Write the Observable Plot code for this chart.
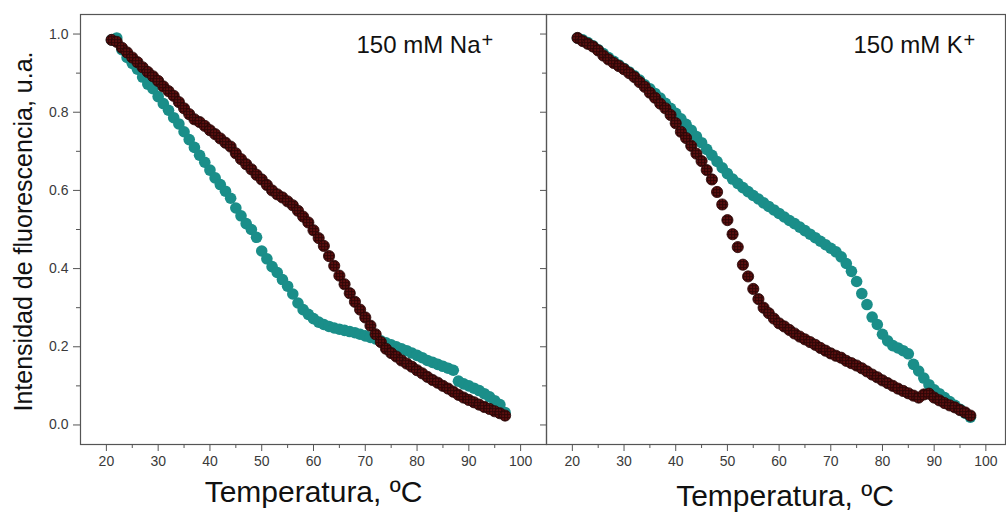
<!DOCTYPE html>
<html>
<head>
<meta charset="utf-8">
<script src="https://cdn.jsdelivr.net/npm/d3@7"></script>
<script src="https://cdn.jsdelivr.net/npm/@observablehq/plot@0.6"></script>
<style>
  html, body { margin: 0; padding: 0; background: #fff; }
  #wrap { position: relative; width: 1006px; height: 512px; overflow: hidden; background: #fff; }
  #left { position: absolute; left: 0; top: 0; }
  #right { position: absolute; left: 536px; top: 0; }
  #defs { position: absolute; width: 0; height: 0; }
</style>
</head>
<body>
<div id="wrap">
<svg id="defs" width="0" height="0">
  <defs>
    <pattern id="speckle" width="3" height="3" patternUnits="userSpaceOnUse">
      <rect width="3" height="3" fill="#2e0707"></rect>
      <rect x="1" y="1" width="1.2" height="1.2" fill="#b01c1c"></rect>
    </pattern>
  </defs>
</svg>
<div id="left"></div><div id="right"></div></div>
<script>
// Temperatures (ºC) of the sampled points
const temps = [21,22,23,24,25,26,27,28,29,30,31,32,33,34,35,36,37,38,39,40,
  41,42,43,44,45,46,47,48,49,50,51,52,53,54,55,56,57,58,59,60,
  61,62,63,64,65,66,67,68,69,70,71,72,73,74,75,76,77,78,79,80,
  81,82,83,84,85,86,87,88,89,90,91,92,93,94,95,96,97];

// 150 mM Na+ panel
const naTeal = [0.985,0.99,0.96,0.94,0.925,0.91,0.89,0.872,0.86,0.84,
  0.822,0.805,0.786,0.77,0.75,0.73,0.71,0.69,0.672,0.652,
  0.632,0.615,0.598,0.58,0.555,0.535,0.515,0.5,0.48,0.445,
  0.425,0.405,0.39,0.372,0.355,0.335,0.312,0.295,0.283,0.272,
  0.263,0.257,0.252,0.248,0.245,0.242,0.239,0.236,0.232,0.228,
  0.224,0.22,0.215,0.21,0.205,0.2,0.195,0.19,0.184,0.178,
  0.172,0.165,0.16,0.155,0.15,0.145,0.14,0.112,0.105,0.1,
  0.094,0.088,0.08,0.072,0.062,0.052,0.032];
const naDark = [0.985,0.98,0.965,0.953,0.94,0.928,0.915,0.903,0.892,0.88,
  0.866,0.854,0.842,0.826,0.81,0.795,0.782,0.775,0.765,0.754,
  0.744,0.733,0.722,0.712,0.695,0.68,0.667,0.654,0.64,0.628,
  0.614,0.6,0.59,0.582,0.572,0.562,0.548,0.533,0.518,0.498,
  0.478,0.458,0.432,0.407,0.382,0.36,0.337,0.315,0.295,0.275,
  0.254,0.232,0.212,0.195,0.184,0.175,0.165,0.157,0.149,0.14,
  0.132,0.123,0.115,0.108,0.1,0.093,0.085,0.077,0.07,0.064,
  0.058,0.052,0.046,0.041,0.035,0.03,0.024];

// 150 mM K+ panel
const kTeal = [0.99,0.985,0.978,0.97,0.96,0.95,0.94,0.93,0.921,0.912,
  0.903,0.893,0.882,0.87,0.86,0.848,0.836,0.823,0.81,0.797,
  0.783,0.769,0.754,0.738,0.722,0.705,0.69,0.674,0.658,0.643,
  0.629,0.618,0.607,0.597,0.587,0.578,0.568,0.559,0.55,0.541,
  0.532,0.523,0.515,0.506,0.497,0.488,0.479,0.47,0.461,0.452,
  0.443,0.43,0.413,0.393,0.367,0.336,0.308,0.276,0.257,0.232,
  0.215,0.203,0.197,0.19,0.182,0.155,0.138,0.12,0.103,0.09,
  0.08,0.07,0.06,0.05,0.04,0.03,0.02];
const kDark = [0.99,0.982,0.975,0.968,0.958,0.945,0.935,0.926,0.918,0.91,
  0.9,0.89,0.877,0.865,0.85,0.837,0.822,0.81,0.793,0.772,
  0.75,0.734,0.714,0.694,0.675,0.652,0.628,0.596,0.564,0.524,
  0.488,0.455,0.41,0.38,0.348,0.322,0.3,0.286,0.272,0.26,
  0.252,0.243,0.234,0.226,0.219,0.212,0.205,0.197,0.19,0.183,
  0.177,0.172,0.164,0.158,0.152,0.145,0.137,0.129,0.122,0.114,
  0.107,0.1,0.093,0.087,0.081,0.075,0.07,0.078,0.08,0.07,
  0.063,0.056,0.05,0.045,0.038,0.032,0.024];

// Ticks and labels
const xMajor = [20,30,40,50,60,70,80,90,100];
const xMinor = [15,25,35,45,55,65,75,85,95,105];
const yMajor = [0,0.2,0.4,0.6,0.8,1.0];
const yMinor = [0.1,0.3,0.5,0.7,0.9];
const xTitle = "Temperatura, ºC";
const yTitle = "Intensidad de fluorescencia, u.a.";
const labelNa = "150 mM Na";
const labelK = "150 mM K";
const plusSign = "+";

const TEAL = "#1a8e89";
const DARK = "url(#speckle)";
const DARKSTROKE = "#2a0606";
const AXIS = "#555";
const FONT = "Liberation Sans, Arial, Helvetica, sans-serif";

function panel({width, marginLeft, xDomain, teal, dark, label, labelDx, plusDx, showYLabels, titleDx, titleDy}) {
  const marks = [
    Plot.frame({stroke: AXIS, strokeWidth: 1.2}),
    Plot.axisX({ticks: xMajor, tickSize: 7, tickPadding: 5, fontSize: 14, stroke: AXIS, fill: "#3a3a3a", label: null}),
    Plot.axisX({ticks: xMinor.filter(d => d > xDomain[0] && d < xDomain[1]), tickSize: 4, text: null, stroke: AXIS, label: null}),
    Plot.axisY({ticks: yMajor, tickSize: showYLabels ? 7 : 6, tickPadding: 5, fontSize: 14, stroke: AXIS, fill: "#3a3a3a",
      tickFormat: showYLabels ? d3.format(".1f") : null, text: showYLabels ? undefined : null, label: null}),
    Plot.axisY({ticks: yMinor, tickSize: 4, text: null, stroke: AXIS, label: null}),
    Plot.dot(temps, {x: temps, y: teal, r: 5.8, fill: TEAL, stroke: "none"}),
    Plot.dot(temps, {x: temps, y: dark, r: 5.6, fill: DARK, stroke: DARKSTROKE, strokeWidth: 0.8}),
    Plot.text([label], {frameAnchor: "top-left", dx: labelDx, dy: 31, textAnchor: "start", lineAnchor: "middle", fontSize: 24, fill: "#111"}),
    Plot.text([plusSign], {frameAnchor: "top-left", dx: plusDx, dy: 26, textAnchor: "start", lineAnchor: "middle", fontSize: 20, fill: "#111"}),
    Plot.text([xTitle], {frameAnchor: "bottom", dx: titleDx, dy: titleDy, textAnchor: "middle", lineAnchor: "middle", fontSize: 30, fill: "#111"})
  ];
  if (showYLabels) {
    marks.push(Plot.text([yTitle], {frameAnchor: "left", dx: -57, dy: 2, rotate: -90, textAnchor: "middle", lineAnchor: "middle", fontSize: 25, fill: "#111"}));
  }
  return Plot.plot({
    width, height: 512,
    marginLeft, marginRight: 1, marginTop: 14, marginBottom: 68,
    x: {domain: xDomain},
    y: {domain: [-0.05, 1.05]},
    style: {fontFamily: FONT, background: "transparent", overflow: "visible"},
    marks
  });
}

document.getElementById("left").appendChild(panel({
  width: 547, marginLeft: 80, xDomain: [15, 105], teal: naTeal, dark: naDark,
  label: labelNa, labelDx: 276, plusDx: 401, showYLabels: true, titleDx: 0, titleDy: 48
}));
document.getElementById("right").appendChild(panel({
  width: 470, marginLeft: 10, xDomain: [15, 103.8], teal: kTeal, dark: kDark,
  label: labelK, labelDx: 307, plusDx: 417, showYLabels: false, titleDx: 9, titleDy: 52
}));
</script>
</body>
</html>
